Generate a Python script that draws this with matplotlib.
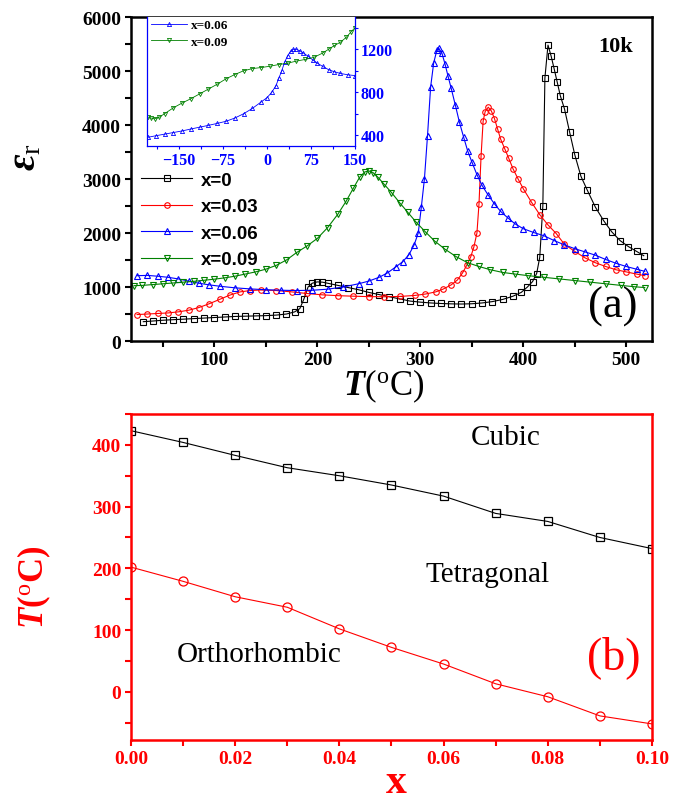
import matplotlib
matplotlib.use("Agg")
import matplotlib.pyplot as plt
from matplotlib.ticker import MultipleLocator

plt.rcParams['font.family'] = ['Liberation Serif', 'DejaVu Serif']
plt.rcParams['mathtext.fontset'] = 'custom'
plt.rcParams['mathtext.rm'] = 'Liberation Serif'
plt.rcParams['mathtext.it'] = 'Liberation Serif:italic:bold'
plt.rcParams['mathtext.bf'] = 'Liberation Serif:bold'

# ---- panel (a): permittivity vs temperature, 10 kHz ----
t_x0 = [31, 40, 50, 60, 70, 80, 90, 100, 110, 120, 130, 140, 150, 160, 170, 178, 183, 187,
        191, 195, 200, 205, 210, 220, 230, 240, 250, 260, 270, 280, 290, 300, 310, 320, 330,
        340, 350, 360, 370, 380, 390, 398, 404, 409, 413, 416, 419, 421, 424, 427, 430, 433,
        436, 440, 445, 450, 456, 462, 470, 478, 486, 494, 502, 510, 517]
eps_x0 = [358, 370, 385, 395, 405, 415, 425, 435, 445, 455, 460, 465, 470, 480, 500, 540, 600,
          780, 1000, 1070, 1095, 1090, 1070, 1030, 990, 950, 900, 860, 820, 780, 740, 720, 705,
          695, 688, 685, 690, 705, 730, 770, 830, 900, 1000, 1100, 1250, 1550, 2500, 4870, 5480,
          5280, 5040, 4790, 4540, 4300, 3870, 3450, 3050, 2800, 2480, 2230, 2020, 1860, 1750,
          1660, 1580]

t_x003 = [25, 35, 45, 55, 65, 75, 85, 95, 105, 115, 125, 135, 145, 160, 175, 190, 205, 220,
          235, 250, 265, 280, 295, 305, 315, 322, 330, 336, 341, 345, 349, 352, 355, 357, 359,
          361, 363, 366, 369, 372, 375, 378, 382, 386, 390, 395, 400, 408, 416, 424, 432, 440,
          450, 460, 470, 480, 490, 500, 510, 518]
eps_x003 = [490, 500, 510, 520, 540, 570, 620, 690, 770, 850, 910, 935, 945, 935, 910, 880, 855,
            840, 830, 822, 820, 825, 845, 870, 910, 960, 1040, 1130, 1260, 1400, 1560, 1740, 2000,
            2540, 3420, 4070, 4250, 4330, 4260, 4120, 3930, 3740, 3560, 3380, 3190, 3000, 2820,
            2570, 2340, 2150, 1990, 1790, 1660, 1540, 1450, 1380, 1320, 1280, 1240, 1210]

t_x006 = [25, 35, 45, 55, 65, 75, 85, 95, 105, 120, 135, 150, 165, 180, 195, 210, 225, 240,
          250, 260, 268, 276, 283, 289, 294, 298, 301, 304, 307, 310, 313, 316, 318, 321, 324,
          327, 330, 334, 338, 342, 346, 350, 355, 360, 366, 372, 378, 385, 392, 400, 410, 420,
          430, 440, 450, 460, 470, 480, 490, 500, 510, 518]
eps_x006 = [1210, 1215, 1200, 1180, 1150, 1110, 1070, 1040, 1015, 985, 965, 950, 940, 935, 940,
            960, 1000, 1060, 1110, 1180, 1260, 1370, 1470, 1600, 1780, 2000, 2480, 3000, 3800,
            4700, 5150, 5380, 5420, 5330, 5130, 4900, 4680, 4370, 4050, 3780, 3520, 3320, 3080,
            2880, 2700, 2540, 2400, 2280, 2170, 2080, 2010, 1950, 1860, 1780, 1710, 1650, 1590,
            1510, 1440, 1380, 1330, 1290]

t_x009 = [22, 30, 40, 50, 60, 70, 80, 90, 100, 110, 120, 130, 140, 150, 160, 170, 180, 190,
          200, 210, 220, 228, 235, 241, 246, 250, 254, 259, 265, 272, 280, 288, 296, 305, 314,
          324, 335, 346, 357, 368, 380, 392, 405, 420, 435, 450, 465, 480, 495, 508, 518]
eps_x009 = [1025, 1030, 1045, 1060, 1075, 1090, 1105, 1125, 1145, 1170, 1200, 1240, 1280, 1330,
            1400, 1500, 1640, 1760, 1900, 2100, 2350, 2590, 2830, 3030, 3130, 3150, 3120, 3030,
            2900, 2750, 2560, 2380, 2200, 2020, 1850, 1700, 1560, 1450, 1380, 1320, 1270, 1240,
            1210, 1180, 1150, 1120, 1090, 1060, 1030, 1005, 990]

# inset: low temperature range
tin_x006 = [-204, -190, -175, -160, -145, -130, -115, -100, -85, -70, -55, -40, -25, -10, 0, 8,
            15, 20, 25, 30, 35, 40, 45, 50, 56, 62, 70, 78, 86, 95, 105, 115, 125, 138, 150]
epsin_x006 = [380, 395, 410, 425, 440, 458, 475, 492, 510, 530, 560, 600, 650, 710, 750, 800,
              860, 930, 1000, 1080, 1140, 1180, 1200, 1200, 1185, 1165, 1135, 1100, 1070, 1040,
              1010, 990, 975, 962, 955]
tin_x009 = [-204, -198, -192, -185, -175, -160, -145, -130, -115, -100, -85, -70, -55, -40, -25,
            -10, 5, 20, 35, 50, 65, 80, 95, 105, 115, 125, 135, 143, 150]
epsin_x009 = [570, 560, 552, 565, 600, 655, 700, 740, 785, 830, 875, 925, 965, 1000, 1020, 1030,
              1042, 1058, 1070, 1090, 1105, 1125, 1165, 1200, 1235, 1265, 1310, 1360, 1400]

# ---- panel (b): phase diagram ----
comp_x = [0.00, 0.01, 0.02, 0.03, 0.04, 0.05, 0.06, 0.07, 0.08, 0.09, 0.10]
t_curie = [423, 404, 383, 363, 350, 335, 317, 289, 276, 250, 232]
t_ot = [202, 179, 154, 137, 102, 72, 45, 13, -8, -39, -52]

series = [
    (t_x0, eps_x0, 'black', 's', 'x=0'),
    (t_x003, eps_x003, 'red', 'o', 'x=0.03'),
    (t_x006, eps_x006, 'blue', '^', 'x=0.06'),
    (t_x009, eps_x009, 'green', 'v', 'x=0.09'),
]

fig = plt.figure(figsize=(6.82, 8.04), dpi=100)

ax1 = fig.add_axes([0.192, 0.5746, 0.764, 0.403])
for t, e, c, m, lab in series:
    ax1.plot(t, e, color=c, marker=m, ms=4, mfc='none', mew=0.8, lw=0.8, label=lab)
ax1.set_xlim(19, 525)
ax1.set_ylim(0, 6000)
ax1.xaxis.set_major_locator(MultipleLocator(100))
ax1.xaxis.set_minor_locator(MultipleLocator(50))
ax1.yaxis.set_major_locator(MultipleLocator(1000))
ax1.yaxis.set_minor_locator(MultipleLocator(500))
ax1.tick_params(which='both', direction='out', length=4, width=1.5, labelsize=14, pad=3)
for lbl in ax1.get_xticklabels() + ax1.get_yticklabels():
    lbl.set_fontweight('bold')
for sp in ax1.spines.values():
    sp.set_linewidth(1.8)
ax1.legend(loc='upper left', bbox_to_anchor=(0.02, 0.523), frameon=False, borderpad=0,
           borderaxespad=0, labelspacing=0.5, handlelength=2.7, handletextpad=0.45,
           numpoints=1, prop={'family': 'Liberation Sans', 'weight': 'bold', 'size': 13.5})
ax1.text(0.93, 0.91, '10k', transform=ax1.transAxes, ha='center', va='center',
         fontsize=16, fontweight='bold')
ax1.text(0.925, 0.11, '(a)', transform=ax1.transAxes, ha='center', va='center', fontsize=32)
fig.text(0.038, 0.805, r'$\varepsilon_\mathrm{r}$', rotation=90, ha='center', va='center',
         fontsize=29)
fig.text(0.562, 0.52, r'$T$($^\mathrm{o}$C)', ha='center', va='center', fontsize=25)

# inset
ax_in = fig.add_axes([0.2155, 0.8172, 0.305, 0.1604])
ax_in.plot(tin_x006, epsin_x006, color='blue', marker='^', ms=3, mfc='none', mew=0.6, lw=0.6,
           label='x=0.06')
ax_in.plot(tin_x009, epsin_x009, color='green', marker='v', ms=3, mfc='none', mew=0.6, lw=0.6,
           label='x=0.09')
ax_in.set_xlim(-205, 150)
ax_in.set_ylim(300, 1500)
ax_in.set_xticks([-150, -75, 0, 75, 150])
ax_in.xaxis.set_minor_locator(MultipleLocator(37.5))
ax_in.yaxis.set_major_locator(MultipleLocator(400))
ax_in.yaxis.set_minor_locator(MultipleLocator(200))
ax_in.yaxis.tick_right()
ax_in.tick_params(which='both', direction='out', length=2.5, width=0.8, colors='blue',
                  labelsize=11.5, pad=1.5)
for lbl in ax_in.get_xticklabels() + ax_in.get_yticklabels():
    lbl.set_fontweight('bold')
for name in ['left', 'bottom', 'right']:
    ax_in.spines[name].set_color('blue')
    ax_in.spines[name].set_linewidth(0.9)
ax_in.spines['top'].set_visible(False)
ax_in.legend(loc='upper left', bbox_to_anchor=(0.02, 0.985), frameon=False, borderpad=0,
             borderaxespad=0, labelspacing=0.35, handlelength=2.75, handletextpad=0.3,
             numpoints=1, prop={'weight': 'bold', 'size': 9.5})

# ---- panel (b) ----
ax2 = fig.add_axes([0.192, 0.0784, 0.764, 0.4054])
ax2.plot(comp_x, t_curie, color='black', marker='s', ms=6, mfc='none', mew=0.9, lw=0.8)
ax2.plot(comp_x, t_ot, color='red', marker='o', ms=6.5, mfc='none', mew=0.9, lw=0.8)
ax2.set_xlim(0, 0.1)
ax2.set_ylim(-78, 450)
ax2.xaxis.set_major_locator(MultipleLocator(0.02))
ax2.xaxis.set_minor_locator(MultipleLocator(0.01))
ax2.yaxis.set_major_locator(MultipleLocator(100))
ax2.yaxis.set_minor_locator(MultipleLocator(50))
ax2.xaxis.set_major_formatter(matplotlib.ticker.FormatStrFormatter('%.2f'))
ax2.tick_params(which='both', direction='out', length=4, width=1.5, colors='red',
                labelsize=14, pad=3)
for lbl in ax2.get_xticklabels() + ax2.get_yticklabels():
    lbl.set_fontweight('bold')
for sp in ax2.spines.values():
    sp.set_color('red')
    sp.set_linewidth(1.8)
ax2.text(0.72, 0.93, 'Cubic', transform=ax2.transAxes, ha='center', va='center', fontsize=21)
ax2.text(0.685, 0.51, 'Tetragonal', transform=ax2.transAxes, ha='center', va='center',
         fontsize=21)
ax2.text(0.246, 0.265, 'Orthorhombic', transform=ax2.transAxes, ha='center', va='center',
         fontsize=21)
ax2.text(0.927, 0.255, '(b)', transform=ax2.transAxes, ha='center', va='center', fontsize=33,
         color='red')
fig.text(0.051, 0.27, r'$T$($^\mathrm{o}$C)', rotation=90, ha='center', va='center',
         fontsize=25, color='red', fontweight='bold')
fig.text(0.581, 0.003, 'x', ha='center', va='bottom', fontsize=30, color='red',
         fontweight='bold')

fig.savefig('out.png', dpi=100)
